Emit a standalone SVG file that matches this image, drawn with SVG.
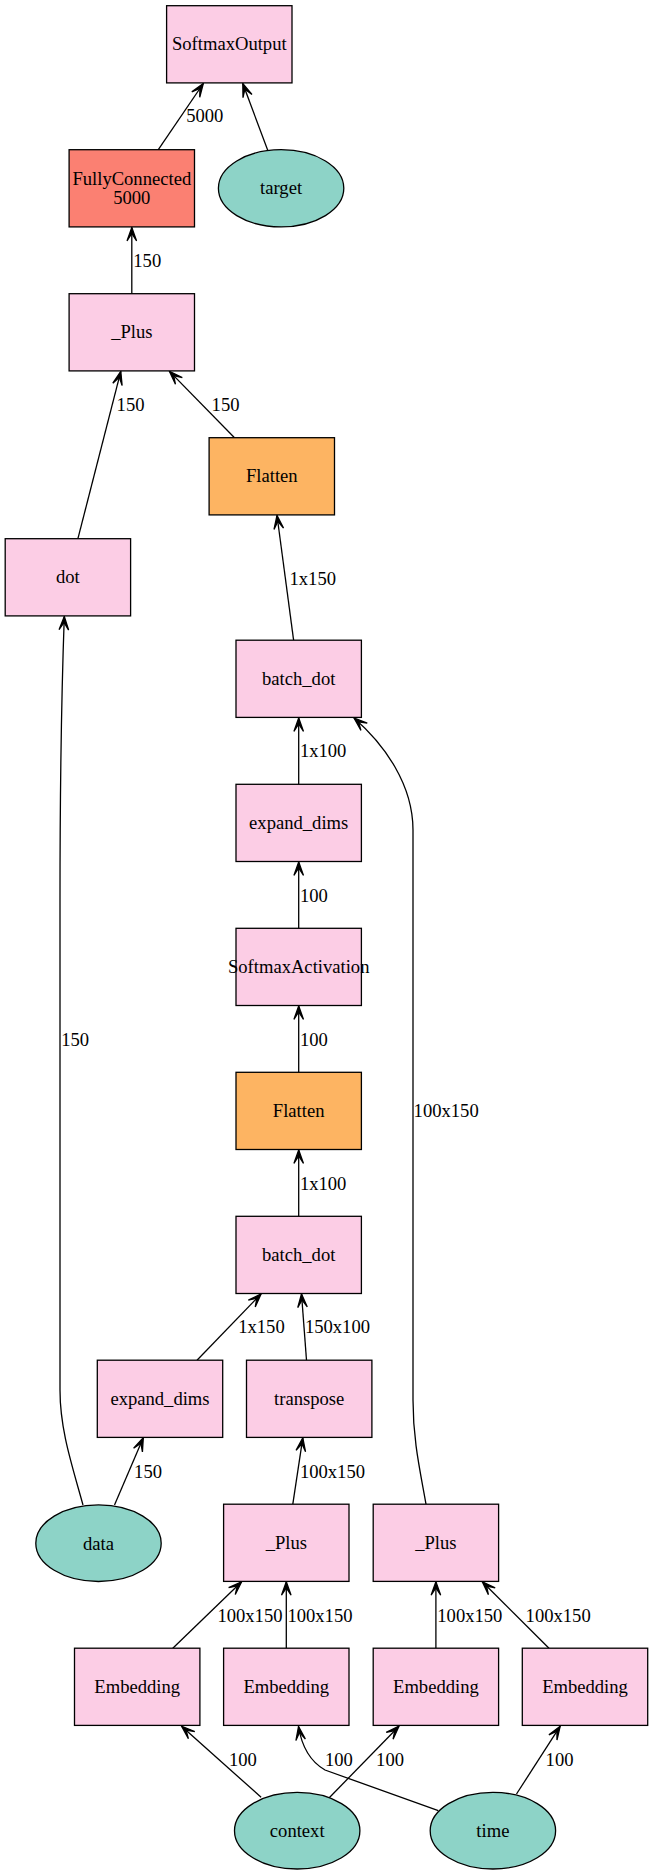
<svg xmlns="http://www.w3.org/2000/svg" width="653" height="1875" viewBox="0 0 653 1875">
  <style>
    .op { fill: #fccde5; stroke: #000; stroke-width: 1.3; }
    .fc { fill: #fb8072; stroke: #000; stroke-width: 1.3; }
    .fl { fill: #fdb462; stroke: #000; stroke-width: 1.3; }
    .var { fill: #8dd3c7; stroke: #000; stroke-width: 1.3; }
    text { font-family: "Liberation Serif", "Times New Roman", serif; font-size: 18.6px; fill: #000; }
    .n { text-anchor: middle; }
    .edge { fill: none; stroke: #000; stroke-width: 1.3; marker-end: url(#vee); }
  </style>
  <defs>
    <marker id="vee" markerUnits="userSpaceOnUse" viewBox="-15 -7 16 14" refX="0" refY="0" markerWidth="16" markerHeight="14" orient="auto" overflow="visible">
      <path d="M0,0 L-13.4,-4.8 L-6,0 L-13.4,4.8 Z" fill="#000" stroke="#000" stroke-width="1.3" stroke-linejoin="miter"/>
    </marker>
  </defs>

  <!-- connectors -->
  <g id="edges">
    <path class="edge" d="M158.3,149.7 L203.3,83.5"/>
    <text x="186.2" y="122.4">5000</text>
    <path class="edge" d="M267.8,150.5 L242.8,83.5"/>
    <path class="edge" d="M131.8,293.7 L131.8,227.5"/>
    <text x="133.3" y="266.7">150</text>
    <path class="edge" d="M77.9,538.7 L120.8,371.4"/>
    <text x="116.6" y="410.7">150</text>
    <path class="edge" d="M234.5,437.7 L169.5,371.4"/>
    <text x="211.6" y="410.7">150</text>
    <path class="edge" d="M293.6,640.2 L277,515.5"/>
    <text x="289.5" y="585">1x150</text>
    <path class="edge" d="M83,1505 C72,1465 60,1430 60,1390 L60,900 C60,760 62,680 64.3,616.5"/>
    <text x="61.2" y="1045.7">150</text>
    <path class="edge" d="M298.7,784.3 L298.7,718"/>
    <text x="299.9" y="757.3">1x100</text>
    <path class="edge" d="M426,1504.2 C420,1470 413,1440 413,1400 L413,830 C413,785 385,745 354,718"/>
    <text x="413.6" y="1117.3">100x150</text>
    <path class="edge" d="M298.7,928.3 L298.7,862"/>
    <text x="299.9" y="901.7">100</text>
    <path class="edge" d="M298.7,1072.3 L298.7,1006"/>
    <text x="299.9" y="1045.7">100</text>
    <path class="edge" d="M298.7,1216.3 L298.7,1150"/>
    <text x="299.9" y="1189.7">1x100</text>
    <path class="edge" d="M197,1360.2 L261.1,1293.9"/>
    <text x="238.2" y="1333.3">1x150</text>
    <path class="edge" d="M306.5,1360.2 L301.5,1293.9"/>
    <text x="304.9" y="1333.3">150x100</text>
    <path class="edge" d="M114.5,1505 L143.3,1437.8"/>
    <text x="134.1" y="1477.7">150</text>
    <path class="edge" d="M292.8,1504.2 L302.8,1437.8"/>
    <text x="299.9" y="1477.7">100x150</text>
    <path class="edge" d="M172.8,1648.2 L241.6,1581.8"/>
    <text x="217.4" y="1621.7">100x150</text>
    <path class="edge" d="M286.3,1648.2 L286.3,1581.8"/>
    <text x="287.4" y="1621.7">100x150</text>
    <path class="edge" d="M435.9,1648.2 L435.9,1581.8"/>
    <text x="437.3" y="1621.7">100x150</text>
    <path class="edge" d="M549,1648.2 L482.3,1581.8"/>
    <text x="525.6" y="1621.7">100x150</text>
    <path class="edge" d="M261.1,1797.3 L181.6,1726.2"/>
    <text x="229" y="1765.7">100</text>
    <path class="edge" d="M438.3,1810.7 L325,1770 C311,1762 302,1748 298.5,1726.5"/>
    <text x="324.9" y="1765.7">100</text>
    <path class="edge" d="M329,1798 L399,1726.2"/>
    <text x="376.1" y="1765.7">100</text>
    <path class="edge" d="M516.5,1794 L560.2,1726.2"/>
    <text x="545.6" y="1765.7">100</text>
  </g>

  <!-- nodes -->
  <g id="softmax_output">
    <rect class="op" x="166.6" y="5.7" width="125.4" height="77.2"/>
    <text class="n" x="229.3" y="50.2">SoftmaxOutput</text>
  </g>
  <g id="fully_connected">
    <rect class="fc" x="69.1" y="149.7" width="125.4" height="77.2"/>
    <text class="n" x="131.8" y="185.3">FullyConnected</text>
    <text class="n" x="131.8" y="204">5000</text>
  </g>
  <g id="target">
    <ellipse class="var" cx="281.1" cy="188.3" rx="62.7" ry="38.6"/>
    <text class="n" x="281.1" y="194.3">target</text>
  </g>
  <g id="plus_out">
    <rect class="op" x="69.1" y="293.7" width="125.4" height="77.2"/>
    <text class="n" x="131.8" y="338.3">_Plus</text>
  </g>
  <g id="flatten_out">
    <rect class="fl" x="209.1" y="437.7" width="125.4" height="77.2"/>
    <text class="n" x="271.8" y="482.3">Flatten</text>
  </g>
  <g id="dot">
    <rect class="op" x="5.2" y="538.7" width="125.4" height="77.2"/>
    <text class="n" x="67.9" y="583.3">dot</text>
  </g>
  <g id="batch_dot_out">
    <rect class="op" x="236" y="640.2" width="125.4" height="77.2"/>
    <text class="n" x="298.7" y="684.8">batch_dot</text>
  </g>
  <g id="expand_dims_att">
    <rect class="op" x="236" y="784.3" width="125.4" height="77.2"/>
    <text class="n" x="298.7" y="828.9">expand_dims</text>
  </g>
  <g id="softmax_activation">
    <rect class="op" x="236" y="928.3" width="125.4" height="77.2"/>
    <text class="n" x="298.7" y="972.9">SoftmaxActivation</text>
  </g>
  <g id="flatten_score">
    <rect class="fl" x="236" y="1072.3" width="125.4" height="77.2"/>
    <text class="n" x="298.7" y="1116.9">Flatten</text>
  </g>
  <g id="batch_dot_score">
    <rect class="op" x="236" y="1216.3" width="125.4" height="77.2"/>
    <text class="n" x="298.7" y="1260.9">batch_dot</text>
  </g>
  <g id="expand_dims_data">
    <rect class="op" x="97.3" y="1360.2" width="125.4" height="77.2"/>
    <text class="n" x="160" y="1404.8">expand_dims</text>
  </g>
  <g id="transpose">
    <rect class="op" x="246.5" y="1360.2" width="125.4" height="77.2"/>
    <text class="n" x="309.2" y="1404.8">transpose</text>
  </g>
  <g id="data">
    <ellipse class="var" cx="98.5" cy="1543.2" rx="62.7" ry="38.3"/>
    <text class="n" x="98.5" y="1549.6">data</text>
  </g>
  <g id="plus_key">
    <rect class="op" x="223.6" y="1504.2" width="125.4" height="77.2"/>
    <text class="n" x="286.3" y="1548.8">_Plus</text>
  </g>
  <g id="plus_value">
    <rect class="op" x="373.2" y="1504.2" width="125.4" height="77.2"/>
    <text class="n" x="435.9" y="1548.8">_Plus</text>
  </g>
  <g id="embedding_1">
    <rect class="op" x="74.5" y="1648.2" width="125.4" height="77.2"/>
    <text class="n" x="137.2" y="1692.8">Embedding</text>
  </g>
  <g id="embedding_2">
    <rect class="op" x="223.6" y="1648.2" width="125.4" height="77.2"/>
    <text class="n" x="286.3" y="1692.8">Embedding</text>
  </g>
  <g id="embedding_3">
    <rect class="op" x="373.2" y="1648.2" width="125.4" height="77.2"/>
    <text class="n" x="435.9" y="1692.8">Embedding</text>
  </g>
  <g id="embedding_4">
    <rect class="op" x="522.3" y="1648.2" width="125.4" height="77.2"/>
    <text class="n" x="585" y="1692.8">Embedding</text>
  </g>
  <g id="context">
    <ellipse class="var" cx="297.2" cy="1830.7" rx="62.7" ry="38.3"/>
    <text class="n" x="297.2" y="1836.9">context</text>
  </g>
  <g id="time">
    <ellipse class="var" cx="492.9" cy="1830.7" rx="62.7" ry="38.3"/>
    <text class="n" x="492.9" y="1836.9">time</text>
  </g>
</svg>
